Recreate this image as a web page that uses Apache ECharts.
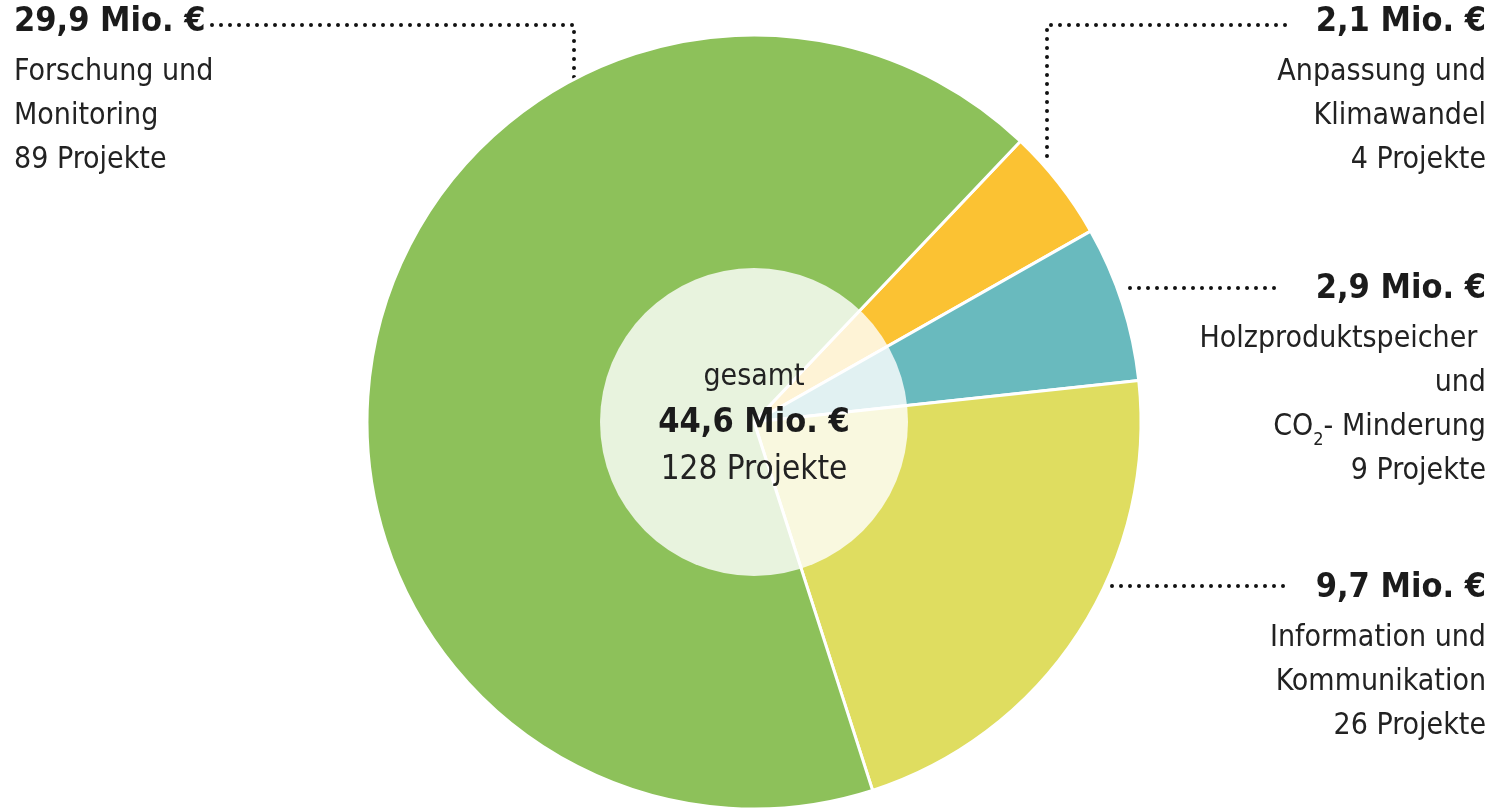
<!DOCTYPE html>
<html>
<head>
<meta charset="utf-8">
<script src="https://cdn.jsdelivr.net/npm/echarts@6/dist/echarts.min.js"></script>
<style>
  html, body { margin: 0; padding: 0; background: #fff; }
  #main { width: 1496px; height: 810px; }
</style>
</head>
<body>
<div id="main"></div>
<script>
// Mittel je Förderschwerpunkt (Mio. €), Reihenfolge im Uhrzeigersinn ab oben rechts
const names = ['Anpassung und\nKlimawandel', 'Holzproduktspeicher \nund\nCO2- Minderung', 'Information und\nKommunikation', 'Forschung und\nMonitoring']
const values = [2.1, 2.9, 9.7, 29.9]
const projects = [4, 9, 26, 89]
const colors = ['#fbc233', '#69babe', '#dfdd60', '#8dc15a']

const FONT = '"DejaVu Sans Condensed", "DejaVu Sans", sans-serif'
const fmt = v => v.toFixed(1).replace('.', ',')

// Lage der Beschriftungen und Führungslinien
const cx = 754, cy = 422, R = 387
const labelPos = [
    { x: 1486, y: -6, align: 'right', line: [[1047, 156], [1047, 25], [1288, 25]] },
    { x: 1486, y: 261, align: 'right', line: [[1130, 288], [1210, 288], [1282, 288]] },
    { x: 1486, y: 560, align: 'right', line: [[1112, 586], [1200, 586], [1290, 586]] },
    { x: 14, y: -6, align: 'left', line: [[574, 77], [574, 25], [204, 25]] }
]

const total = values.reduce((a, b) => a + b, 0)
const totalProjects = projects.reduce((a, b) => a + b, 0)

function lineText(s) {
    if (s.indexOf('CO2') === 0) return '{t|CO}{s|2}{t|' + s.slice(3) + '}'
    return '{t|' + s + '}'
}

const chart = echarts.init(document.getElementById('main'))
chart.setOption({
    animation: false,
    textStyle: { fontFamily: FONT },
    series: [
        {
            type: 'pie',
            center: [cx, cy],
            radius: [0, R],
            startAngle: 46.5,
            clockwise: true,
            silent: true,
            itemStyle: { borderColor: '#fff', borderWidth: 3 },
            data: values.map((v, i) => ({ name: names[i], value: v, itemStyle: { color: colors[i] } })),
            label: {
                show: true,
                position: 'outside',
                overflow: 'none',
                color: '#1b1b1b',
                formatter: p => {
                    const i = p.dataIndex
                    const rows = ['{h|' + fmt(values[i]) + ' Mio. €}']
                    names[i].split('\n').forEach(s => rows.push(lineText(s)))
                    rows.push('{t|' + projects[i] + ' Projekte}')
                    return rows.join('\n')
                },
                rich: {
                    h: { fontFamily: FONT, fontWeight: 'bold', fontSize: 34, lineHeight: 56, color: '#1b1b1b' },
                    t: { fontFamily: FONT, fontSize: 30, lineHeight: 44, color: '#222' },
                    s: { fontFamily: FONT, fontSize: 18, lineHeight: 18, verticalAlign: 'bottom', color: '#222' }
                }
            },
            labelLine: {
                show: true,
                lineStyle: { color: '#111', width: 4, type: [0, 9], cap: 'round' }
            },
            labelLayout: p => {
                const L = labelPos[p.dataIndex]
                return {
                    x: L.x, y: L.y, align: L.align, verticalAlign: 'top',
                    labelLinePoints: L.line
                }
            }
        },
        {
            type: 'pie',
            center: [cx, cy],
            radius: [0, 154],
            silent: true,
            data: [{ value: 1, itemStyle: { color: 'rgba(255,255,255,0.8)' } }],
            label: {
                show: true,
                position: 'center',
                offset: [0, 2],
                formatter: '{g|gesamt}\n{b|' + fmt(total) + ' Mio. €}\n{p|' + totalProjects + ' Projekte}',
                rich: {
                    g: { fontFamily: FONT, fontSize: 30, lineHeight: 46, color: '#222' },
                    b: { fontFamily: FONT, fontWeight: 'bold', fontSize: 34, lineHeight: 46, color: '#1b1b1b' },
                    p: { fontFamily: FONT, fontSize: 33, lineHeight: 48, color: '#222' }
                }
            },
            labelLine: { show: false }
        }
    ]
})
</script>
</body>
</html>
